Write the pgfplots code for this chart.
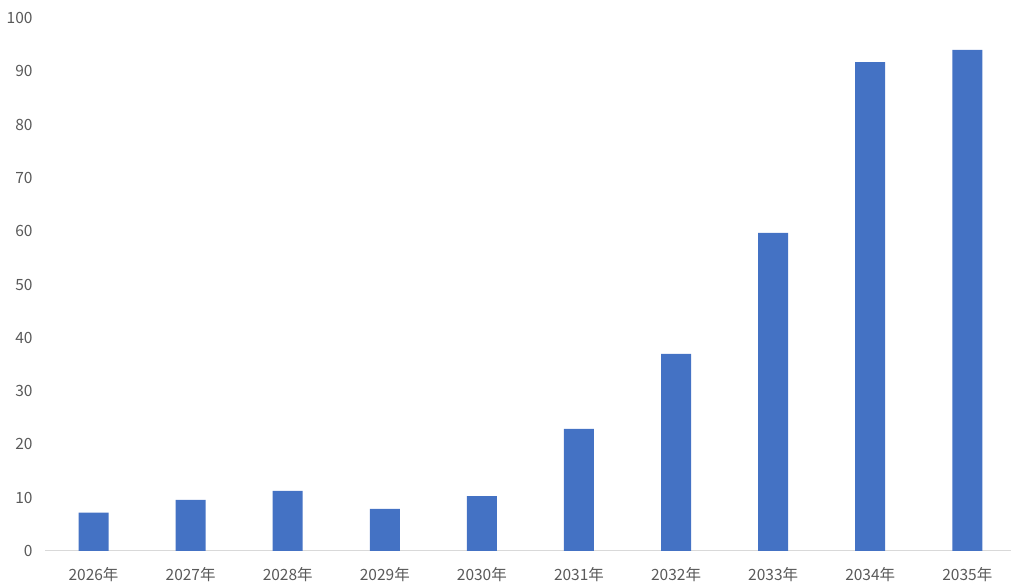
\documentclass[border=0pt]{standalone}
\usepackage{fontspec}
\setmainfont{Noto Sans CJK SC}
\usepackage{pgfplots}
\pgfplotsset{compat=1.18}
\definecolor{barblue}{HTML}{4472C4}
\definecolor{txtgray}{HTML}{595959}
\definecolor{axgray}{HTML}{D9D9D9}
\begin{document}
\begin{tikzpicture}
\useasboundingbox (0,0) rectangle (1011pt,585pt);
\begin{axis}[
  at={(45pt,34pt)}, anchor=south west,
  scale only axis,
  width=966pt, height=533pt,
  xmin=-0.5, xmax=9.45,
  ymin=0, ymax=100,
  ytick={0,10,...,100},
  xtick={0,...,9},
  xticklabels={2026年,2027年,2028年,2029年,2030年,2031年,2032年,2033年,2034年,2035年},
  axis x line*=bottom,
  axis y line*=left,
  y axis line style={draw=none},
  x axis line style={draw=axgray, line width=1pt},
  major tick length=0pt,
  tick style={draw=none},
  yticklabel style={text=txtgray, font=\fontsize{15.5}{17}\selectfont, xshift=-9pt},
  xticklabel style={text=txtgray, font=\fontsize{15.5}{17}\selectfont, yshift=-13pt},
  /pgf/number format/assume math mode=true,
  clip=false,
]
\addplot[ybar, bar width=30pt, fill=barblue, draw=none] coordinates {
(0,7.2) (1,9.6) (2,11.3) (3,7.9) (4,10.3) (5,22.9) (6,37.0) (7,59.7) (8,91.7) (9,94.0)
};
\end{axis}
\end{tikzpicture}
\end{document}
